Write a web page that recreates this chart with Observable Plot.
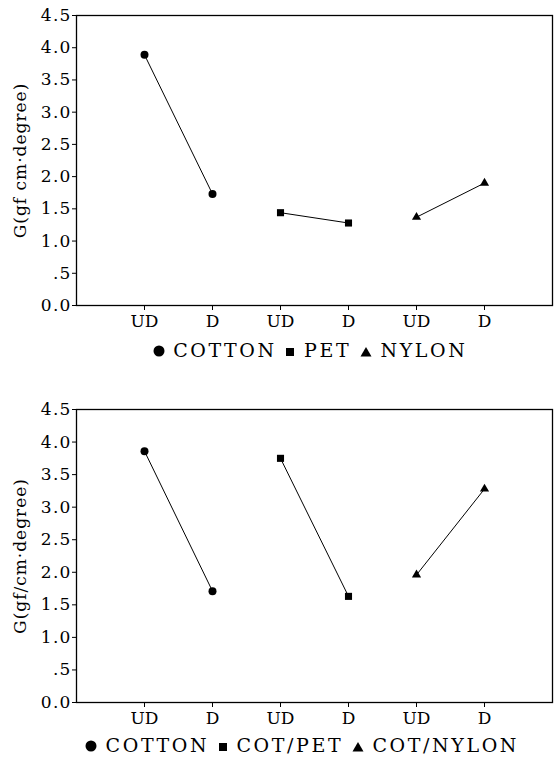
<!DOCTYPE html>
<html>
<head>
<meta charset="utf-8">
<script src="https://cdn.jsdelivr.net/npm/d3@7"></script>
<script src="https://cdn.jsdelivr.net/npm/@observablehq/plot@0.6"></script>
<style>
  body { margin: 0; background: #fff; width: 554px; }
  .legend { font-family: "DejaVu Serif", serif; font-size: 19px; letter-spacing: 2.6px; color: #000; text-align: center; white-space: nowrap; }
  .legend svg { vertical-align: baseline; }
  svg g[aria-label="y-axis tick label"] text { letter-spacing: 1.2px; }
  svg g[aria-label="y-axis label"] text { letter-spacing: 1px; }
</style>
</head>
<body>
<div id="c1"></div>
<div id="l1" class="legend" style="height:30px;line-height:30px;padding-left:66px;box-sizing:border-box;"></div>
<div id="c2"></div>
<div id="l2" class="legend" style="height:26px;line-height:26px;padding-left:50px;box-sizing:border-box;"></div>
<script>
// ---- data ----
const xLabels = ["UD", "D", "UD", "D", "UD", "D"];
const xPositions = [1, 2, 3, 4, 5, 6];
const yTicks = [0, 0.5, 1, 1.5, 2, 2.5, 3, 3.5, 4, 4.5];

const topSeries = ["COTTON", "PET", "NYLON"];
const topCotton = [3.89, 1.73];
const topPet = [1.44, 1.28];
const topNylon = [1.37, 1.90];
const topYLabel = "G(gf cm·degree)";

const botSeries = ["COTTON", "COT/PET", "COT/NYLON"];
const botCotton = [3.86, 1.71];
const botCotPet = [3.75, 1.63];
const botCotNylon = [1.96, 3.28];
const botYLabel = "G(gf/cm·degree)";

const symbols = ["circle", "square", "triangle"];
const symbolR = [4, 4, 3.4];

function rows(names, valuesList) {
  const out = [];
  names.forEach((name, i) => {
    valuesList[i].forEach((v, j) => {
      out.push({series: name, idx: i, x: xPositions[i * 2 + j], y: v});
    });
  });
  return out;
}

function yFmt(d) {
  if (d === 0) return "0.0";
  if (d === 0.5) return ".5";
  return d.toFixed(1);
}

function chart(names, valuesList, yLabel, height, marginTop) {
  const data = rows(names, valuesList);
  const dotMarks = names.map((n, i) =>
    Plot.dot(data.filter(d => d.idx === i), {x: "x", y: "y", symbol: symbols[i], r: symbolR[i], fill: "black", stroke: "none"})
  );
  return Plot.plot({
    width: 554,
    height: height,
    marginTop: marginTop,
    marginLeft: 76,
    marginRight: 2,
    marginBottom: 30,
    style: {fontFamily: '"DejaVu Serif", serif', fontSize: "17px", color: "black", background: "white"},
    x: {domain: [0, 7], ticks: xPositions, tickFormat: (d) => xLabels[d - 1], tickSize: 5, tickPadding: 4, label: null},
    y: {domain: [0, 4.5], ticks: yTicks, tickFormat: yFmt, tickSize: 4, tickPadding: 1, label: yLabel, labelAnchor: "center", labelArrow: "none", labelOffset: 63},
    marks: [
      Plot.frame({stroke: "black", strokeWidth: 1.3}),
      Plot.line(data, {x: "x", y: "y", z: "series", stroke: "black", strokeWidth: 1}),
      ...dotMarks
    ]
  });
}

document.getElementById("c1").append(chart(topSeries, [topCotton, topPet, topNylon], topYLabel, 335, 15));
document.getElementById("c2").append(chart(botSeries, [botCotton, botCotPet, botCotNylon], botYLabel, 367, 44));

const circleSvg = '<svg width="12" height="12" viewBox="-6 -6 12 12"><circle r="5.5" fill="black"/></svg>';
const squareSvg = '<svg width="10" height="10" viewBox="-5 -5 10 10"><rect x="-4" y="-4" width="8" height="8" fill="black"/></svg>';
const triSvg = '<svg width="12" height="11" viewBox="-6 -6 12 11"><path d="M0,-5L5.5,4.5L-5.5,4.5Z" fill="black"/></svg>';
const icons = [circleSvg, squareSvg, triSvg];

function legend(el, names) {
  el.innerHTML = names.map((n, i) => icons[i] + " " + n).join(" ");
}
legend(document.getElementById("l1"), topSeries);
legend(document.getElementById("l2"), botSeries);
</script>
</body>
</html>
